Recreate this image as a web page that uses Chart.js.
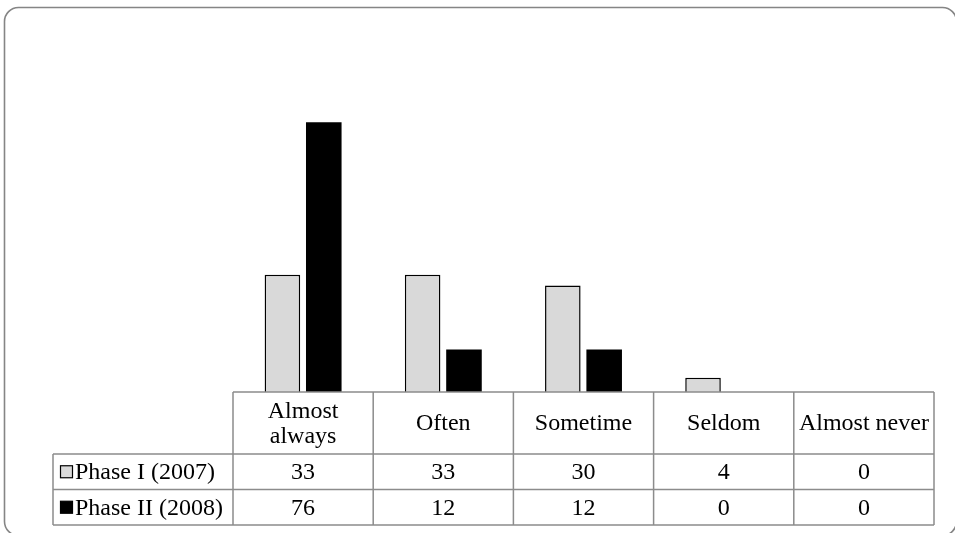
<!DOCTYPE html>
<html>
<head>
<meta charset="utf-8">
<title>Phase I vs Phase II</title>
<script src="https://cdn.jsdelivr.net/npm/chart.js@4/dist/chart.umd.min.js"></script>
<style>
  html, body { margin: 0; padding: 0; background: #ffffff; }
  #wrap { position: relative; width: 955px; height: 533px; }
</style>
</head>
<body>
<div id="wrap"><canvas id="c" width="955" height="533"></canvas></div>
<script>
// Response categories (header row of the data table)
const categories = [["Almost", "always"], ["Often"], ["Sometime"], ["Seldom"], ["Almost never"]];
// Series names
const seriesNames = ["Phase I (2007)", "Phase II (2008)"];
// Series values
const phase1 = [33, 33, 30, 4, 0];
const phase2 = [76, 12, 12, 0, 0];

const FONT = '24px "Liberation Serif", "Times New Roman", serif';
const LINE = '#8c8c8c';
const seriesFill = ['#d9d9d9', '#000000'];
const seriesStroke = ['#000000', '#000000'];

// Outer rounded frame of the chart
const framePlugin = {
  id: 'frame',
  beforeDraw(chart) {
    const ctx = chart.ctx;
    ctx.save();
    ctx.fillStyle = '#ffffff';
    ctx.fillRect(0, 0, chart.width, chart.height);
    ctx.strokeStyle = '#858585';
    ctx.lineWidth = 1.6;
    ctx.beginPath();
    ctx.roundRect(4.5, 7.5, 952, 528, 14);
    ctx.stroke();
    ctx.restore();
  }
};

// Data table beneath the plot area, aligned to the category scale
const tablePlugin = {
  id: 'dataTable',
  afterDatasetsDraw(chart) {
    const ctx = chart.ctx;
    const xs = chart.scales.x;
    const area = chart.chartArea;
    const n = categories.length;
    const colW = (area.right - area.left) / n;
    const top = area.bottom;
    const headH = 62, rowH = 35.5;
    const legendLeft = 53;
    const r1 = top + headH, r2 = r1 + rowH, r3 = r2 + rowH;

    ctx.save();
    ctx.strokeStyle = LINE;
    ctx.lineWidth = 1.5;
    ctx.beginPath();
    // axis / header top
    ctx.moveTo(area.left, top); ctx.lineTo(area.right, top);
    // row lines
    [r1, r2, r3].forEach(y => { ctx.moveTo(legendLeft, y); ctx.lineTo(area.right, y); });
    // column lines
    for (let i = 0; i <= n; i++) {
      const x = area.left + i * colW;
      ctx.moveTo(x, top); ctx.lineTo(x, r3);
    }
    ctx.moveTo(legendLeft, r1); ctx.lineTo(legendLeft, r3);
    ctx.stroke();

    ctx.fillStyle = '#000000';
    ctx.font = FONT;
    ctx.textAlign = 'center';
    ctx.textBaseline = 'middle';
    categories.forEach((lines, i) => {
      const cx = xs.getPixelForValue(i);
      const mid = top + headH / 2 + 1;
      const lh = 25;
      lines.forEach((t, k) => {
        ctx.fillText(t, cx, mid + (k - (lines.length - 1) / 2) * lh);
      });
      ctx.fillText(String(phase1[i]), cx, r1 + rowH / 2 + 1);
      ctx.fillText(String(phase2[i]), cx, r2 + rowH / 2 + 1);
    });

    // legend keys and series names
    ctx.textAlign = 'left';
    [r1, r2].forEach((y, s) => {
      const cy = y + rowH / 2;
      ctx.fillStyle = seriesFill[s];
      ctx.fillRect(60.5, cy - 6, 12, 12);
      ctx.strokeStyle = seriesStroke[s];
      ctx.lineWidth = 1.2;
      ctx.strokeRect(60.5, cy - 6, 12, 12);
      ctx.fillStyle = '#000000';
      ctx.fillText(seriesNames[s], 75, cy + 1);
    });
    ctx.restore();
  }
};

new Chart(document.getElementById('c'), {
  type: 'bar',
  data: {
    labels: categories.map(c => c.join(' ')),
    datasets: [
      {
        label: seriesNames[0],
        data: phase1,
        backgroundColor: seriesFill[0],
        borderColor: seriesStroke[0],
        borderWidth: 1.5,
        barPercentage: 0.86,
        categoryPercentage: 0.59
      },
      {
        label: seriesNames[1],
        data: phase2,
        backgroundColor: seriesFill[1],
        borderColor: seriesStroke[1],
        borderWidth: 0,
        barPercentage: 0.86,
        categoryPercentage: 0.59
      }
    ]
  },
  options: {
    responsive: false,
    animation: false,
    devicePixelRatio: 1,
    layout: { padding: { left: 233, right: 21, top: 37, bottom: 141 } },
    plugins: {
      legend: { display: false },
      tooltip: { enabled: false },
      title: { display: false }
    },
    scales: {
      x: { display: false, offset: true },
      y: { display: false, min: 0, max: 100 }
    }
  },
  plugins: [framePlugin, tablePlugin]
});
</script>
</body>
</html>
